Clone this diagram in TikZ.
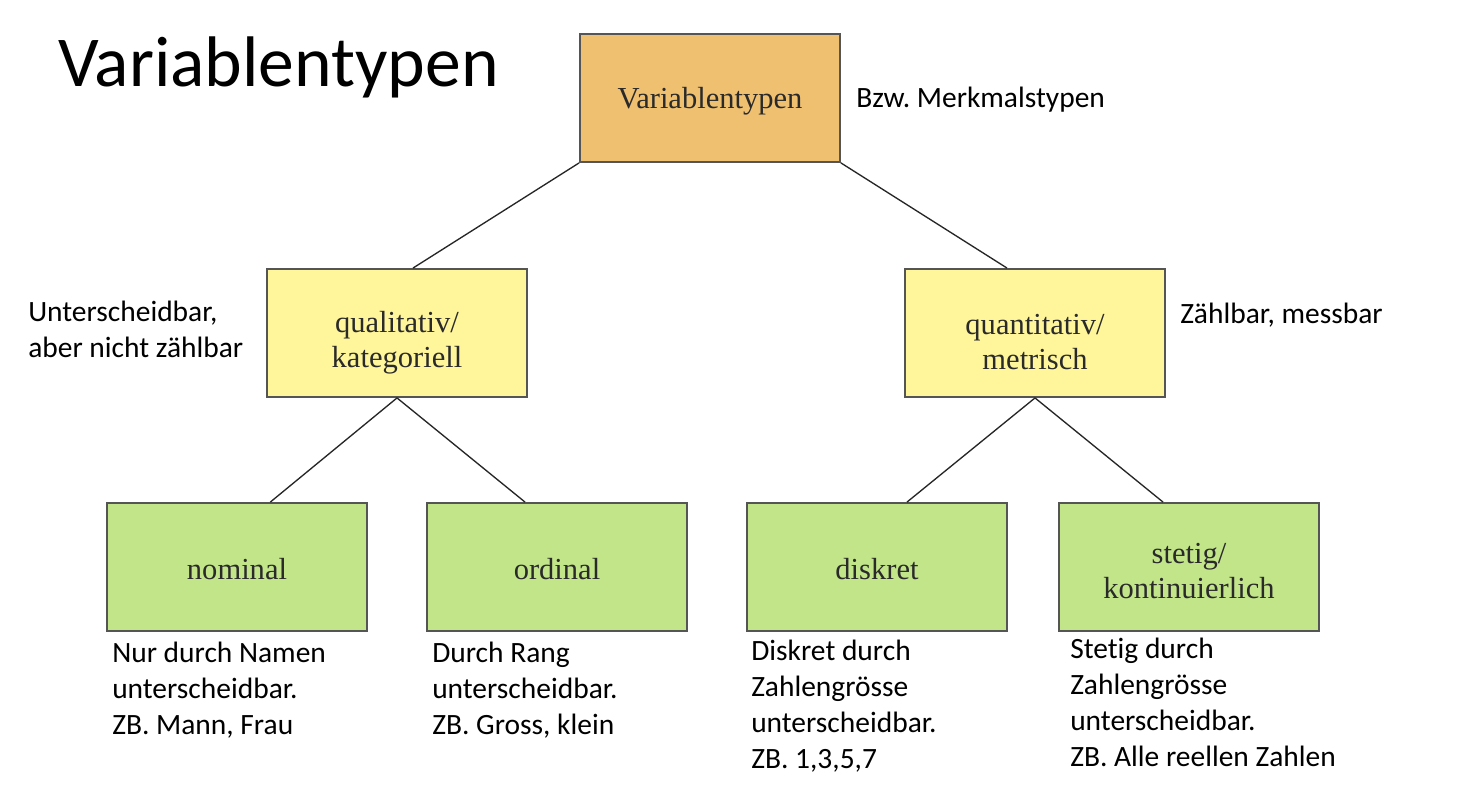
\documentclass[tikz,border=0pt]{standalone}
\usepackage{fontspec}
\setmainfont{Liberation Serif}
\newfontfamily\calib[Ligatures=NoCommon]{Carlito}
\frenchspacing
\definecolor{orangebox}{HTML}{EFC070}
\definecolor{yellowbox}{HTML}{FFF59A}
\definecolor{greenbox}{HTML}{C2E58A}
\definecolor{boxline}{HTML}{555555}
\definecolor{boxtext}{HTML}{2A2A2A}
\tikzset{
  x=0.75pt, y=-0.75pt,
  catbox/.style={draw=boxline, line width=1.4pt, minimum width=195pt, minimum height=96pt,
    inner sep=0pt},
  boxlabel/.style={align=center, text=boxtext, inner sep=0pt,
    font=\fontsize{22.9pt}{26.25pt}\selectfont},
  topbox/.style={catbox, fill=orangebox},
  midbox/.style={catbox, fill=yellowbox},
  lowbox/.style={catbox, fill=greenbox},
  note/.style={anchor=base west, inner sep=0pt, align=left,
    font=\calib\fontsize{22.1pt}{27pt}\selectfont},
  conn/.style={draw=black!85, line width=1pt}
}
\begin{document}
\begin{tikzpicture}
\useasboundingbox (0,0) rectangle (1460,788);
\fill[white] (0,0) rectangle (1460,788);
% title
\node[anchor=base west, inner sep=0pt, font=\calib\fontsize{53.7pt}{60pt}\selectfont] (title) at (58,87) {Variablentypen};
% boxes
\node[topbox, label={[boxlabel, yshift=-2.5pt]center:Variablentypen}] (top) at (710,98) {};
\node[midbox, label={[boxlabel, yshift=-7pt]center:qualitativ/\\kategoriell}] (qual) at (397,333) {};
\node[midbox, label={[boxlabel, yshift=-7pt]center:quantitativ/\\metrisch}] (quant) at (1035,333) {};
\node[lowbox, label={[boxlabel, yshift=-1.5pt]center:nominal}] (nom) at (237,567) {};
\node[lowbox, label={[boxlabel, yshift=-1.5pt]center:ordinal}] (ord) at (557,567) {};
\node[lowbox, label={[boxlabel, yshift=-1.5pt]center:diskret}] (dis) at (877,567) {};
\node[lowbox, label={[boxlabel, yshift=-3pt]center:stetig/\\kontinuierlich}] (ste) at (1189,567) {};
% connectors
\draw[conn] (top.south west) -- ([xshift=12pt]qual.north);
\draw[conn] (top.south east) -- ([xshift=-21pt]quant.north);
\draw[conn] (qual.south) -- ([xshift=25pt]nom.north);
\draw[conn] (qual.south) -- ([xshift=-24pt]ord.north);
\draw[conn] (quant.south) -- ([xshift=22.5pt]dis.north);
\draw[conn] (quant.south) -- ([xshift=-19.5pt]ste.north);
% notes (anchored at the baseline of the last line)
\node[note] (n1) at (856,108) {Bzw. Merkmalstypen};
\node[note] (n2) at (28,357) {Unterscheidbar,\\aber nicht zählbar};
\node[note] (n3) at (1180,323) {Zählbar, messbar};
\node[note] (n4) at (112,734) {Nur durch Namen\\unterscheidbar.\\ZB. Mann, Frau};
\node[note] (n5) at (432,734) {Durch Rang\\unterscheidbar.\\ZB. Gross, klein};
\node[note] (n6) at (751,768) {Diskret durch\\Zahlengrösse\\unterscheidbar.\\ZB. 1,3,5,7};
\node[note] (n7) at (1070,766) {Stetig durch\\Zahlengrösse\\unterscheidbar.\\ZB. Alle reellen Zahlen};
\end{tikzpicture}
\end{document}
